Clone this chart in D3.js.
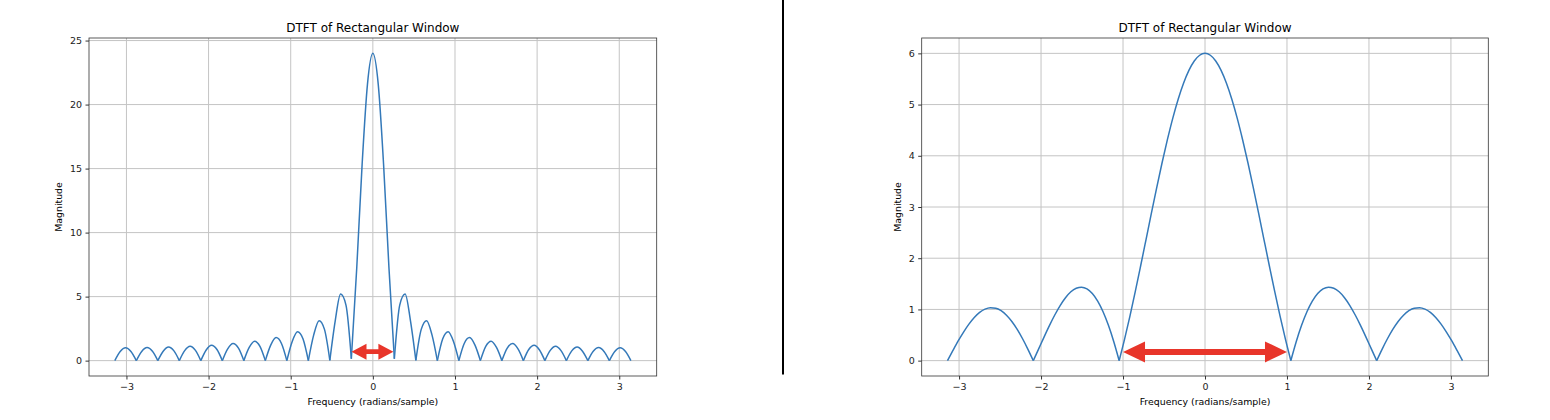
<!DOCTYPE html>
<html>
<head>
<meta charset="utf-8">
<script src="https://cdn.jsdelivr.net/npm/d3@7"></script>
<style>
  html, body { margin: 0; padding: 0; background: #fff; }
  svg { display: block; font-family: "DejaVu Sans", sans-serif; }
</style>
</head>
<body>
<svg id="chart" width="1550" height="420"></svg>
<script>
// ---- data ----
const freq = [
  -3.1416, -3.0761, -3.0107, -2.9452, -2.8798, -2.8143, -2.7489, -2.6834,
  -2.618, -2.5525, -2.4871, -2.4216, -2.3562, -2.2907, -2.2253, -2.1598,
  -2.0944, -2.0289, -1.9635, -1.898, -1.8326, -1.7671, -1.7017, -1.6362,
  -1.5708, -1.5053, -1.4399, -1.3744, -1.309, -1.2435, -1.1781, -1.1126,
  -1.0472, -0.9817, -0.9163, -0.8508, -0.7854, -0.7199, -0.6545, -0.589,
  -0.5236, -0.4581, -0.3927, -0.3272, -0.2618, -0.1963, -0.1309, -0.0654,
  0,
  0.0654, 0.1309, 0.1963, 0.2618, 0.3272, 0.3927, 0.4581, 0.5236,
  0.589, 0.6545, 0.7199, 0.7854, 0.8508, 0.9163, 0.9817, 1.0472,
  1.1126, 1.1781, 1.2435, 1.309, 1.3744, 1.4399, 1.5053, 1.5708,
  1.6362, 1.7017, 1.7671, 1.8326, 1.898, 1.9635, 2.0289, 2.0944,
  2.1598, 2.2253, 2.2907, 2.3562, 2.4216, 2.4871, 2.5525, 2.618,
  2.6834, 2.7489, 2.8143, 2.8798, 2.9452, 3.0107, 3.0761, 3.1416
];

// Left panel (long window)
const magLeft = [
  0, 0.71, 1.00, 0.71, 0, 0.72, 1.02, 0.73, 0, 0.74, 1.06, 0.76,
  0, 0.78, 1.12, 0.80, 0, 0.83, 1.20, 0.87, 0, 0.92, 1.33, 0.97,
  0, 1.03, 1.52, 1.12, 0, 1.21, 1.80, 1.34, 0, 1.50, 2.26, 1.71,
  0, 2.01, 3.12, 2.44, 0.02, 3.11, 5.2, 4.34, 0.15, 7.21, 15.29, 21.6,
  24,
  21.6, 15.29, 7.21, 0.15, 4.34, 5.2, 3.11, 0.02, 2.44, 3.12, 2.01, 0,
  1.71, 2.26, 1.50, 0, 1.34, 1.80, 1.21, 0, 1.12, 1.52, 1.03, 0,
  0.97, 1.33, 0.92, 0, 0.87, 1.20, 0.83, 0, 0.80, 1.12, 0.78, 0,
  0.76, 1.06, 0.74, 0, 0.73, 1.02, 0.72, 0, 0.71, 1.00, 0.71, 0
];

// Right panel (short window)
const magRight = [
  0, 0.195, 0.384, 0.558, 0.713, 0.843, 0.942, 1.007, 1.035, 1.025, 0.976, 0.888,
  0.765, 0.610, 0.427, 0.221, 0, 0.230, 0.460, 0.683, 0.891, 1.076, 1.229, 1.344,
  1.414, 1.435, 1.401, 1.311, 1.162, 0.954, 0.689, 0.369, 0, 0.414, 0.865, 1.346,
  1.848, 2.360, 2.874, 3.379, 3.864, 4.319, 4.736, 5.105, 5.417, 5.668, 5.851, 5.963,
  6,
  5.963, 5.851, 5.668, 5.417, 5.105, 4.736, 4.319, 3.864, 3.379, 2.874, 2.360, 1.848,
  1.346, 0.865, 0.414, 0, 0.369, 0.689, 0.954, 1.162, 1.311, 1.401, 1.435, 1.414,
  1.344, 1.229, 1.076, 0.891, 0.683, 0.460, 0.230, 0, 0.221, 0.427, 0.610, 0.765,
  0.888, 0.976, 1.025, 1.035, 1.007, 0.942, 0.843, 0.713, 0.558, 0.384, 0.195, 0
];

const xTicks = [-3, -2, -1, 0, 1, 2, 3];
const yTicksLeft = [0, 5, 10, 15, 20, 25];
const yTicksRight = [0, 1, 2, 3, 4, 5, 6];

// Arrow annotations (main-lobe width): [x start, x end, y]
const arrowLeft = [-0.26, 0.25, 0.7];
const arrowRight = [-1.0, 1.0, 0.17];

const titleText = "DTFT of Rectangular Window";
const xLabelText = "Frequency (radians/sample)";
const yLabelText = "Magnitude";

// ---- drawing ----
const svg = d3.select("#chart");

function drawPanel(opt) {
  const { left, right, top, bottom, xDomain, yDomain, mags, yTicks, arrow, head } = opt;
  const x = d3.scaleLinear().domain(xDomain).range([left, right]);
  const y = d3.scaleLinear().domain(yDomain).range([bottom, top]);
  const g = svg.append("g");

  // grid
  g.append("g").selectAll("line").data(xTicks).join("line")
    .attr("x1", d => x(d)).attr("x2", d => x(d))
    .attr("y1", top).attr("y2", bottom)
    .attr("stroke", "#c4c4c4").attr("stroke-width", 1);
  g.append("g").selectAll("line").data(yTicks).join("line")
    .attr("x1", left).attr("x2", right)
    .attr("y1", d => y(d)).attr("y2", d => y(d))
    .attr("stroke", "#c4c4c4").attr("stroke-width", 1);

  // curve split into lobes at local minima so the cusps stay sharp
  const pts = freq.map((f, i) => [f, mags[i]]);
  const segs = [];
  let cur = [pts[0]];
  for (let i = 1; i < pts.length; i++) {
    cur.push(pts[i]);
    const isMin = i < pts.length - 1 && pts[i][1] <= pts[i - 1][1] && pts[i][1] <= pts[i + 1][1];
    if (isMin) { segs.push(cur); cur = [pts[i]]; }
  }
  if (cur.length > 1) segs.push(cur);
  const line = d3.line().x(d => x(d[0])).y(d => y(d[1])).curve(d3.curveMonotoneX);
  g.append("g").selectAll("path").data(segs).join("path")
    .attr("d", line)
    .attr("fill", "none").attr("stroke", "#3479b9").attr("stroke-width", 1.5)
    .attr("stroke-linejoin", "round").attr("stroke-linecap", "butt");

  // arrow
  const ax0 = x(arrow[0]), ax1 = x(arrow[1]), ay = y(arrow[2]);
  const [hl, hw, sw] = head;
  const poly = [
    [ax0, ay], [ax0 + hl, ay - hw], [ax0 + hl, ay - sw], [ax1 - hl, ay - sw],
    [ax1 - hl, ay - hw], [ax1, ay], [ax1 - hl, ay + hw], [ax1 - hl, ay + sw],
    [ax0 + hl, ay + sw], [ax0 + hl, ay + hw]
  ];
  g.append("polygon").attr("points", poly.map(p => p.join(",")).join(" "))
    .attr("fill", "#e8352a").attr("stroke", "none");

  // axes
  const xAxis = d3.axisBottom(x).tickValues(xTicks).tickSize(3.5).tickPadding(3.5)
    .tickFormat(d => d < 0 ? "\u2212" + Math.abs(d) : String(d));
  const yAxis = d3.axisLeft(y).tickValues(yTicks).tickSize(3.5).tickPadding(3.5)
    .tickFormat(d => String(d));
  const gx = g.append("g").attr("transform", `translate(0,${bottom})`).call(xAxis);
  const gy = g.append("g").attr("transform", `translate(${left},0)`).call(yAxis);
  [gx, gy].forEach(a => {
    a.select(".domain").remove();
    a.selectAll(".tick line").attr("stroke", "#000").attr("stroke-width", 0.8);
    a.selectAll(".tick text").attr("fill", "#222").style("font-size", "9.5px")
      .style("font-family", "DejaVu Sans, sans-serif");
  });

  // frame
  g.append("rect").attr("x", left).attr("y", top)
    .attr("width", right - left).attr("height", bottom - top)
    .attr("fill", "none").attr("stroke", "#333").attr("stroke-width", 0.8);

  // labels
  const cx = (left + right) / 2;
  g.append("text").attr("x", cx).attr("y", 31.5).attr("text-anchor", "middle")
    .style("font-size", "12px").attr("fill", "#000").text(titleText);
  g.append("text").attr("x", cx).attr("y", 404.5).attr("text-anchor", "middle")
    .style("font-size", "9.4px").attr("fill", "#000").text(xLabelText);
  g.append("text")
    .attr("transform", `translate(${opt.yLabelX},${(top + bottom) / 2}) rotate(-90)`)
    .attr("text-anchor", "middle")
    .style("font-size", "9.4px").attr("fill", "#000").text(yLabelText);
}

drawPanel({
  left: 89, right: 656.7, top: 38, bottom: 376,
  xDomain: [-3.4558, 3.4558], yDomain: [-1.2, 25.2],
  mags: magLeft, yTicks: yTicksLeft, arrow: arrowLeft,
  head: [15, 8, 2.3], yLabelX: 62
});
drawPanel({
  left: 921.7, right: 1488.3, top: 38, bottom: 376,
  xDomain: [-3.4558, 3.4558], yDomain: [-0.3, 6.3],
  mags: magRight, yTicks: yTicksRight, arrow: arrowRight,
  head: [22, 10.5, 3], yLabelX: 901
});

// vertical divider between the two panels
svg.append("line").attr("x1", 783).attr("x2", 783).attr("y1", 0).attr("y2", 374.5)
  .attr("stroke", "#000").attr("stroke-width", 2);
</script>
</body>
</html>
